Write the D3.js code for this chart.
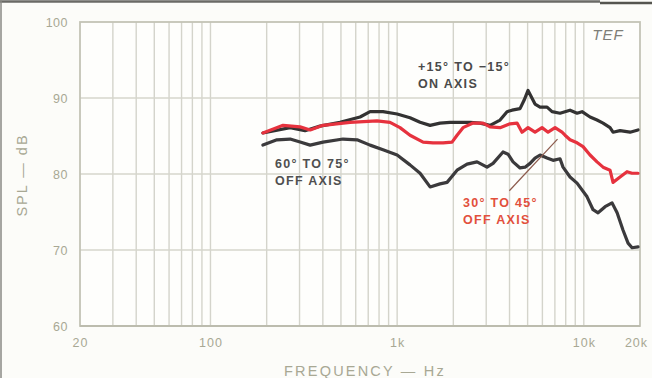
<!DOCTYPE html>
<html>
<head>
<meta charset="utf-8">
<script src="https://cdn.jsdelivr.net/npm/d3@7"></script>
<style>
  html, body { margin: 0; padding: 0; background: #fcfcf9; }
  svg { display: block; }
</style>
</head>
<body>
<svg id="chart" width="652" height="378"></svg>
<script>
// Polar response measurements, SPL (dB) against frequency (Hz)
const onAxisFreq = [191, 267, 321, 386, 494, 633, 716, 840, 1000, 1172, 1327, 1501, 1697, 1920, 2173, 2458, 2781, 3146, 3559, 3879, 4126, 4553, 4786, 5026, 5479, 5829, 6354, 6759, 7457, 8438, 9200, 9784, 10800, 11770, 12680, 13820, 14340, 15640, 17690, 19520];
const onAxisDb   = [85.4, 86.1, 85.7, 86.3, 86.8, 87.5, 88.2, 88.2, 87.9, 87.4, 86.8, 86.4, 86.7, 86.8, 86.8, 86.8, 86.7, 86.4, 87.1, 88.2, 88.4, 88.6, 89.7, 91.0, 89.2, 88.8, 88.8, 88.2, 88.0, 88.4, 88.0, 88.2, 87.5, 87.1, 86.7, 86.1, 85.5, 85.7, 85.5, 85.8];

const mid30Freq = [191, 245, 302, 342, 401, 559, 780, 916, 1036, 1172, 1377, 1557, 1762, 1968, 2094, 2254, 2550, 2885, 3146, 3559, 4025, 4389, 4668, 5026, 5479, 5974, 6434, 7015, 7644, 7934, 8438, 9200, 9906, 10800, 11770, 12680, 13820, 14340, 15640, 17040, 18130, 19520];
const mid30Db   = [85.4, 86.4, 86.2, 85.8, 86.4, 86.8, 87.0, 86.8, 86.1, 85.1, 84.2, 84.1, 84.1, 84.2, 85.1, 86.1, 86.7, 86.7, 86.2, 86.1, 86.6, 86.7, 85.5, 86.1, 85.5, 86.1, 85.5, 86.1, 85.5, 85.1, 84.5, 84.1, 83.6, 82.5, 81.6, 80.9, 80.5, 78.9, 79.6, 80.3, 80.1, 80.1];

const wide60Freq = [191, 227, 267, 302, 342, 401, 513, 610, 716, 840, 1000, 1172, 1327, 1501, 1697, 1851, 2094, 2369, 2679, 3031, 3265, 3692, 3927, 4178, 4553, 4845, 5153, 5479, 5829, 6354, 6843, 7457, 7739, 8438, 9200, 10410, 11210, 11920, 13000, 14170, 15080, 16230, 17260, 18130, 19520];
const wide60Db   = [83.8, 84.5, 84.6, 84.2, 83.8, 84.2, 84.6, 84.5, 83.8, 83.2, 82.5, 81.2, 80.1, 78.3, 78.7, 78.9, 80.5, 81.3, 81.6, 80.9, 81.4, 82.9, 82.6, 81.6, 80.8, 80.9, 81.4, 82.1, 82.5, 82.1, 81.8, 82.0, 80.9, 79.6, 78.8, 77.0, 75.3, 74.9, 75.7, 76.2, 74.9, 72.6, 70.9, 70.3, 70.4];

// Grid and tick definitions
const xTickValues = [20, 100, 1000, 10000, 20000];
const xTickLabels = ["20", "100", "1k", "10k", "20k"];
const yTickValues = [60, 70, 80, 90, 100];
const xGridValues = [];
[10, 100, 1000, 10000].forEach(d => { for (let m = 1; m <= 9; m++) { const v = d * m; if (v > 20 && v < 20000) xGridValues.push(v); } });

// Leader line from the 30°–45° label to its curve: [freq, dB] ends
const leaderFreq = [3990, 7230];
const leaderDb = [77.8, 84.6];

const svg = d3.select("#chart");
const W = 652, H = 378;
const plotLeft = 80, plotRight = 640, plotTop = 22, plotBottom = 326;

const x = d3.scaleLog().domain([20, 20000]).range([plotLeft, plotRight]);
const y = d3.scaleLinear().domain([60, 100]).range([plotBottom, plotTop]);

const gridCol = "#d4d4cb";
const labelCol = "#a8a894";
const font = "'Liberation Sans', 'DejaVu Sans', Arial, sans-serif";

// Outer page edge
svg.append("line").attr("x1", 0).attr("x2", 600).attr("y1", 1.5).attr("y2", 1.5)
  .attr("stroke", "#6a6a66").attr("stroke-width", 2.5);
svg.append("line").attr("x1", 600).attr("x2", W).attr("y1", 3).attr("y2", 3)
  .attr("stroke", "#55554f").attr("stroke-width", 2.5);
svg.append("line").attr("x1", 1).attr("x2", 1).attr("y1", 0).attr("y2", H)
  .attr("stroke", "#8a8a84").attr("stroke-width", 1.5);

// Plot background
svg.append("rect").attr("x", plotLeft).attr("y", plotTop).attr("width", plotRight - plotLeft).attr("height", plotBottom - plotTop)
  .attr("fill", "#fefefc");

// Vertical log grid
svg.append("g").selectAll("line").data(xGridValues).join("line")
  .attr("x1", d => x(d)).attr("x2", d => x(d))
  .attr("y1", plotTop).attr("y2", plotBottom)
  .attr("stroke", gridCol).attr("stroke-width", 1.4);

// Horizontal grid
svg.append("g").selectAll("line").data(yTickValues.filter(v => v > 60 && v < 100)).join("line")
  .attr("x1", plotLeft).attr("x2", plotRight)
  .attr("y1", d => y(d)).attr("y2", d => y(d))
  .attr("stroke", "#d6d6cc").attr("stroke-width", 1.3);

// Plot frame
svg.append("rect").attr("x", plotLeft).attr("y", plotTop).attr("width", plotRight - plotLeft).attr("height", plotBottom - plotTop)
  .attr("fill", "none").attr("stroke", "#c4c4b6").attr("stroke-width", 1.8);
svg.append("line").attr("x1", plotLeft).attr("x2", plotRight).attr("y1", plotBottom).attr("y2", plotBottom)
  .attr("stroke", "#bcbcae").attr("stroke-width", 2.2);

// Axes (labels only)
const yAxis = svg.append("g").attr("transform", `translate(${plotLeft - 12},0)`)
  .call(d3.axisLeft(y).tickValues(yTickValues).tickSize(0).tickPadding(0).tickFormat(d3.format("d")));
yAxis.select(".domain").remove();
yAxis.selectAll("text").attr("fill", labelCol).attr("font-family", font).attr("font-size", 12.5)
  .attr("letter-spacing", 0.5).attr("dy", "0.36em");

const xAxis = svg.append("g").attr("transform", `translate(0,${plotBottom + 10})`)
  .call(d3.axisBottom(x).tickValues(xTickValues).tickSize(0).tickPadding(2)
    .tickFormat((d, i) => xTickLabels[i]));
xAxis.select(".domain").remove();
xAxis.selectAll("text").attr("fill", labelCol).attr("font-family", font).attr("font-size", 12.5)
  .attr("letter-spacing", 1)
  .attr("dx", d => d === 20000 ? -4 : 0);

// Axis titles
svg.append("text").attr("x", 365).attr("y", 376).attr("text-anchor", "middle")
  .attr("fill", labelCol).attr("font-family", font).attr("font-size", 14.5).attr("letter-spacing", 2.2)
  .text("FREQUENCY — Hz");
svg.append("text").attr("transform", "translate(27,175) rotate(-90)").attr("text-anchor", "middle")
  .attr("fill", labelCol).attr("font-family", font).attr("font-size", 14.5).attr("letter-spacing", 2)
  .text("SPL — dB");

// TEF mark
svg.append("text").attr("x", 608).attr("y", 40).attr("text-anchor", "middle")
  .attr("fill", "#7e7e78").attr("font-family", font).attr("font-size", 15).attr("font-style", "italic")
  .attr("letter-spacing", 1).text("TEF");

// Response curves
const line = d3.line().x(d => x(d[0])).y(d => y(d[1]));
const zip = (fs, vs) => fs.map((f, i) => [f, vs[i]]);

const series = [
  { name: "60-75", data: zip(wide60Freq, wide60Db), color: "#3b3a3c" },
  { name: "on", data: zip(onAxisFreq, onAxisDb), color: "#333232" },
  { name: "30-45", data: zip(mid30Freq, mid30Db), color: "#e6323e" }
];

svg.append("g").selectAll("path").data(series).join("path")
  .attr("d", d => line(d.data))
  .attr("fill", "none").attr("stroke", d => d.color)
  .attr("stroke-width", 3.2).attr("stroke-linejoin", "round").attr("stroke-linecap", "round");

// Leader line
svg.append("path").attr("d", line(zip(leaderFreq, leaderDb)))
  .attr("stroke", "#8c5a4c").attr("stroke-width", 1.2).attr("fill", "none");

// Curve annotations
const note = (lines, x0, y0, color) => {
  const t = svg.append("text").attr("font-family", font).attr("font-size", 12.5)
    .attr("font-weight", "bold").attr("letter-spacing", 1.3).attr("fill", color);
  lines.forEach((s, i) => t.append("tspan").attr("x", x0).attr("y", y0 + i * 17).text(s));
};
note(["+15° TO −15°", "ON AXIS"], 418, 71, "#4a4a4a");
note(["60° TO 75°", "OFF AXIS"], 275, 168, "#505050");
note(["30° TO 45°", "OFF AXIS"], 463, 207, "#e2503c");
</script>
</body>
</html>
